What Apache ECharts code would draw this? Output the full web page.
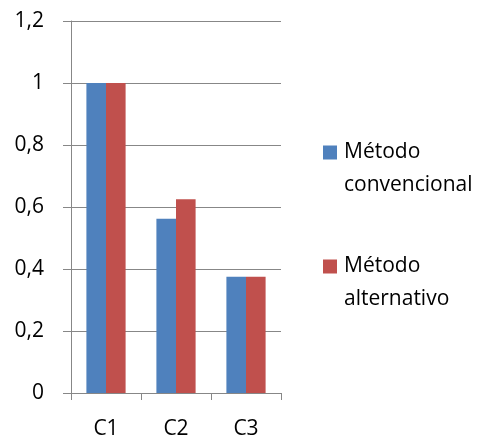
<!DOCTYPE html>
<html>
<head>
<meta charset="utf-8">
<script src="https://cdn.jsdelivr.net/npm/echarts@6/dist/echarts.min.js"></script>
<style>
  html, body { margin: 0; padding: 0; background: #fff; }
  #chart { width: 486px; height: 440px; }
</style>
</head>
<body>
<div id="chart"></div>
<script>
// Categories and values of the two methods
var categories = ['C1', 'C2', 'C3'];
var convencional = [1, 0.5625, 0.375];
var alternativo = [1, 0.625, 0.375];
var seriesNames = ['Método\nconvencional', 'Método\nalternativo'];

var FONT = '"Open Sans", "Liberation Sans", sans-serif';
var GRID_COLOR = '#878787';

var chart = echarts.init(document.getElementById('chart'), null, { renderer: 'canvas' });

chart.setOption({
  animation: false,
  textStyle: { fontFamily: FONT },
  grid: { left: 71, right: 205, top: 21, bottom: 47, containLabel: false },
  legend: {
    orient: 'vertical',
    left: 318,
    top: 98,
    itemWidth: 14,
    itemHeight: 14,
    itemGap: 15,
    icon: 'rect',
    // a blank leading line keeps the marker level with the first text line
    formatter: function (name) { return ' \n' + name; },
    textStyle: {
      fontFamily: FONT,
      fontSize: 21,
      color: '#000',
      lineHeight: 33,
      padding: [0, 0, 0, 2]
    },
    data: seriesNames
  },
  xAxis: {
    type: 'category',
    data: categories,
    axisLine: { lineStyle: { color: GRID_COLOR, width: 1 } },
    axisTick: { show: true, length: 7, lineStyle: { color: GRID_COLOR } },
    axisLabel: { color: '#000', fontSize: 21, fontFamily: FONT, margin: 26 }
  },
  yAxis: {
    type: 'value',
    min: 0,
    max: 1.2,
    interval: 0.2,
    axisLine: { show: true, lineStyle: { color: GRID_COLOR, width: 1 } },
    axisTick: { show: true, length: 8, lineStyle: { color: GRID_COLOR } },
    splitLine: { show: true, lineStyle: { color: GRID_COLOR, width: 1 } },
    axisLabel: {
      color: '#000',
      fontSize: 21,
      fontFamily: FONT,
      margin: 27,
      formatter: function (v) {
        return String(Math.round(v * 10) / 10).replace('.', ',');
      }
    }
  },
  series: [
    {
      name: seriesNames[0],
      type: 'bar',
      data: convencional,
      barGap: '0%',
      barCategoryGap: '44%',
      itemStyle: { color: '#4F81BD' }
    },
    {
      name: seriesNames[1],
      type: 'bar',
      data: alternativo,
      barGap: '0%',
      barCategoryGap: '44%',
      itemStyle: { color: '#C0504D' }
    }
  ]
});
</script>
</body>
</html>
